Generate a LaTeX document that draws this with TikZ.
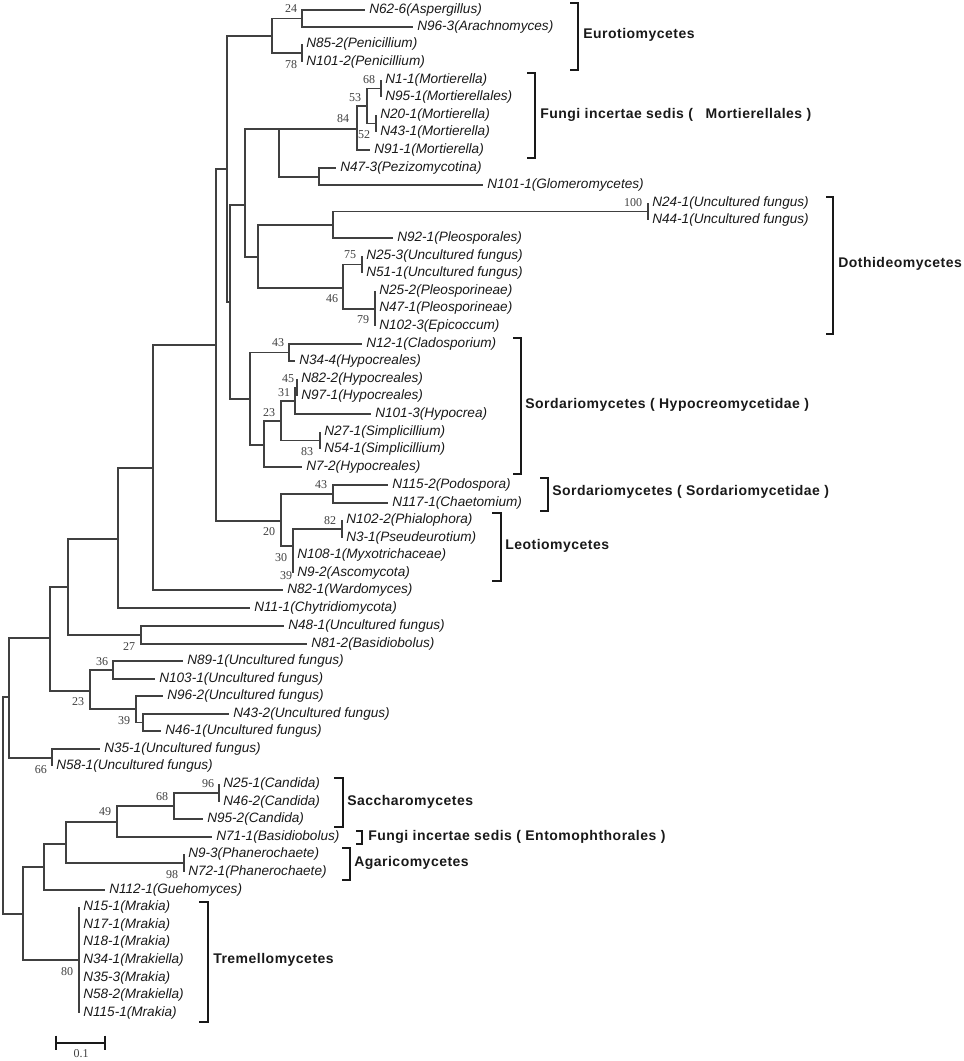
\documentclass[tikz,border=0pt]{standalone}
\usepackage{fontspec}
\setmainfont{Liberation Serif}
\newfontfamily\leaffont{Liberation Sans}
\newfontfamily\cladefont{Liberation Sans}[LetterSpace=3.5]

\begin{document}
\begin{tikzpicture}[
    x=0.75pt, y=-0.75pt,
    branch/.style={black!75, line width=0.9pt},
    leaf/.style={anchor=west, inner xsep=3pt, inner ysep=0pt, text=black!90,
      font=\leaffont\itshape\fontsize{10.2}{12}\selectfont},
    boot/.style={inner sep=0pt, text=black!75, font=\fontsize{9}{10}\selectfont},
    clade/.style={anchor=west, inner sep=0pt, text=black!90,
      font=\cladefont\bfseries\fontsize{10.5}{12}\selectfont},
    bracket/.style={black!90, line width=1.7pt},
    scalebar/.style={black!90, line width=1.5pt}
  ]
    \useasboundingbox (0,0) rectangle (964,1061);

    % Internal nodes of the tree (x = branch length, y = row)
    \coordinate (root)     at (3,805);
    \coordinate (lowA)     at (9,697);
    \coordinate (lowB)     at (23,914);
    \coordinate (uncgrp)   at (50,638);
    \coordinate (upper)    at (68,587);
    \coordinate (asco)     at (118,539);
    \coordinate (pezizo)   at (153,468);
    \coordinate (crown)    at (216,345);
    \coordinate (eurmor)   at (227,169);
    \coordinate (euro)     at (272,36);
    \coordinate (aspara)   at (302,18.5);
    \coordinate (penic)    at (302,53);
    \coordinate (dothsord) at (230,302);
    \coordinate (mortdoth) at (245,205);
    \coordinate (mortglo)  at (279,129);
    \coordinate (mort)     at (357,129);
    \coordinate (morta)    at (367,106);
    \coordinate (mortb)    at (381,88.5);
    \coordinate (mortc)    at (376,123.5);
    \coordinate (pezglo)   at (319,177);
    \coordinate (doth)     at (258,257);
    \coordinate (dotha)    at (333,225);
    \coordinate (dothunc)  at (648,211.5);
    \coordinate (dothb)    at (343,288);
    \coordinate (dothc)    at (362,264.5);
    \coordinate (pleos)    at (375,309);
    \coordinate (hypo)     at (250,399);
    \coordinate (hypoa)    at (289,352.5);
    \coordinate (hypob)    at (264,445);
    \coordinate (hypoc)    at (281,421);
    \coordinate (hypod)    at (295,401);
    \coordinate (hypoe)    at (297,387.5);
    \coordinate (simpl)    at (320,440.5);
    \coordinate (sordleo)  at (281,521);
    \coordinate (sord)     at (333,494);
    \coordinate (leo)      at (293,546);
    \coordinate (leoa)     at (293,564);
    \coordinate (leob)     at (342,529);
    \coordinate (basgrp)   at (141,635);
    \coordinate (uncw)     at (90,691);
    \coordinate (uncx)     at (113,670);
    \coordinate (uncy)     at (136,709);
    \coordinate (uncz)     at (143,722.5);
    \coordinate (uncab)    at (52,758);
    \coordinate (basid)    at (44,867);
    \coordinate (sacch)    at (66,844);
    \coordinate (saccb)    at (117,822);
    \coordinate (candida)  at (174,806);
    \coordinate (candb)    at (219,793);
    \coordinate (agar)     at (184,863);
    \coordinate (trem)     at (79,960);

    % Leaves (node sits at the tip of its branch)
    \node[leaf] (asp)  at (365,10)  {N62-6(Aspergillus)};
    \node[leaf] (ara)  at (413,27)  {N96-3(Arachnomyces)};
    \node[leaf] (pena) at (302,44)  {N85-2(Penicillium)};
    \node[leaf] (penb) at (302,62)  {N101-2(Penicillium)};
    \node[leaf] (mora) at (381,80)  {N1-1(Mortierella)};
    \node[leaf] (morb) at (381,97)  {N95-1(Mortierellales)};
    \node[leaf] (morc) at (376,115) {N20-1(Mortierella)};
    \node[leaf] (mord) at (376,132) {N43-1(Mortierella)};
    \node[leaf] (more) at (370,150) {N91-1(Mortierella)};
    \node[leaf] (pez)  at (336,168) {N47-3(Pezizomycotina)};
    \node[leaf] (glo)  at (483,185) {N101-1(Glomeromycetes)};
    \node[leaf] (unca) at (648,203) {N24-1(Uncultured fungus)};
    \node[leaf] (uncb) at (648,220) {N44-1(Uncultured fungus)};
    \node[leaf] (ple)  at (393,238) {N92-1(Pleosporales)};
    \node[leaf] (uncc) at (362,256) {N25-3(Uncultured fungus)};
    \node[leaf] (uncd) at (362,273) {N51-1(Uncultured fungus)};
    \node[leaf] (plea) at (375,291) {N25-2(Pleosporineae)};
    \node[leaf] (pleb) at (375,308) {N47-1(Pleosporineae)};
    \node[leaf] (epi)  at (375,326) {N102-3(Epicoccum)};
    \node[leaf] (cla)  at (362,344) {N12-1(Cladosporium)};
    \node[leaf] (hypa) at (295,361) {N34-4(Hypocreales)};
    \node[leaf] (hypb) at (297,379) {N82-2(Hypocreales)};
    \node[leaf] (hypc) at (297,396) {N97-1(Hypocreales)};
    \node[leaf] (hypd) at (371,414) {N101-3(Hypocrea)};
    \node[leaf] (sima) at (320,432) {N27-1(Simplicillium)};
    \node[leaf] (simb) at (320,449) {N54-1(Simplicillium)};
    \node[leaf] (hype) at (302,467) {N7-2(Hypocreales)};
    \node[leaf] (pod)  at (388,485) {N115-2(Podospora)};
    \node[leaf] (cha)  at (388,503) {N117-1(Chaetomium)};
    \node[leaf] (phi)  at (342,520) {N102-2(Phialophora)};
    \node[leaf] (pse)  at (342,538) {N3-1(Pseudeurotium)};
    \node[leaf] (myx)  at (293,555) {N108-1(Myxotrichaceae)};
    \node[leaf] (asc)  at (293,573) {N9-2(Ascomycota)};
    \node[leaf] (war)  at (283,590) {N82-1(Wardomyces)};
    \node[leaf] (chy)  at (250,608) {N11-1(Chytridiomycota)};
    \node[leaf] (unce) at (284,626) {N48-1(Uncultured fungus)};
    \node[leaf] (basa) at (307,644) {N81-2(Basidiobolus)};
    \node[leaf] (uncf) at (183,661) {N89-1(Uncultured fungus)};
    \node[leaf] (uncg) at (155,679) {N103-1(Uncultured fungus)};
    \node[leaf] (unch) at (163,696) {N96-2(Uncultured fungus)};
    \node[leaf] (unci) at (229,714) {N43-2(Uncultured fungus)};
    \node[leaf] (uncj) at (161,731) {N46-1(Uncultured fungus)};
    \node[leaf] (unck) at (100,749) {N35-1(Uncultured fungus)};
    \node[leaf] (uncl) at (52,766)  {N58-1(Uncultured fungus)};
    \node[leaf] (cana) at (219,784) {N25-1(Candida)};
    \node[leaf] (canb) at (219,802) {N46-2(Candida)};
    \node[leaf] (canc) at (203,819) {N95-2(Candida)};
    \node[leaf] (basb) at (212,837) {N71-1(Basidiobolus)};
    \node[leaf] (phaa) at (184,854) {N9-3(Phanerochaete)};
    \node[leaf] (phab) at (184,872) {N72-1(Phanerochaete)};
    \node[leaf] (gue)  at (105,890) {N112-1(Guehomyces)};
    \foreach \t/\yy [count=\k] in {N15-1(Mrakia)/907, N17-1(Mrakia)/925,
        N18-1(Mrakia)/942, N34-1(Mrakiella)/960, N35-3(Mrakia)/978,
        N58-2(Mrakiella)/995, N115-1(Mrakia)/1013}
      \node[leaf] (mrk\k) at (79,\yy) {\t};

    % Branches: parent |- child
    \foreach \a/\b in {root/lowA, root/lowB, lowA/uncgrp, lowA/uncab,
        uncgrp/upper, uncgrp/uncw, upper/asco, upper/basgrp,
        asco/pezizo, asco/chy, pezizo/crown, pezizo/war,
        crown/eurmor, crown/sordleo, eurmor/euro, eurmor/dothsord}
      \draw[branch] (\a) |- (\b);

    % Eurotiomycetes and Mortierellales
    \foreach \a/\b in {euro/aspara, euro/penic, aspara/asp, aspara/ara,
        penic/pena, penic/penb, dothsord/mortdoth, dothsord/hypo,
        mortdoth/mortglo, mortdoth/doth, mortglo/mort, mortglo/pezglo,
        mort/morta, mort/more, morta/mortb, morta/mortc,
        mortb/mora, mortb/morb, mortc/morc, mortc/mord,
        pezglo/pez, pezglo/glo}
      \draw[branch] (\a) |- (\b);

    % Dothideomycetes
    \foreach \a/\b in {doth/dotha, doth/dothb, dotha/dothunc, dotha/ple,
        dothunc/unca, dothunc/uncb, dothb/dothc, dothb/pleos,
        dothc/uncc, dothc/uncd, pleos/plea, pleos/pleb, pleos/epi}
      \draw[branch] (\a) |- (\b);

    % Sordariomycetes and Leotiomycetes
    \foreach \a/\b in {hypo/hypoa, hypo/hypob, hypoa/cla, hypoa/hypa,
        hypob/hypoc, hypob/hype, hypoc/hypod, hypoc/simpl,
        hypod/hypoe, hypod/hypd, hypoe/hypb, hypoe/hypc,
        simpl/sima, simpl/simb, sordleo/sord, sordleo/leo,
        sord/pod, sord/cha, leo/leob, leo/leoa,
        leob/phi, leob/pse, leoa/myx, leoa/asc}
      \draw[branch] (\a) |- (\b);

    % Uncultured groups
    \foreach \a/\b in {basgrp/unce, basgrp/basa, uncw/uncx, uncw/uncy,
        uncx/uncf, uncx/uncg, uncy/unch, uncy/uncz,
        uncz/unci, uncz/uncj, uncab/unck, uncab/uncl}
      \draw[branch] (\a) |- (\b);

    % Saccharomycetes, Agaricomycetes, Tremellomycetes
    \foreach \a/\b in {lowB/basid, lowB/trem, basid/sacch, basid/gue,
        sacch/saccb, sacch/agar, saccb/candida, saccb/basb,
        candida/candb, candida/canc, candb/cana, candb/canb,
        agar/phaa, agar/phab}
      \draw[branch] (\a) |- (\b);
    \foreach \k in {1,...,7}
      \draw[branch] (trem) |- (mrk\k);

    % Bootstrap values
    \foreach \v/\x/\y [count=\k] in {24/291/9, 78/291/65, 68/369/80,
        53/355/98, 84/343/119, 52/364/135, 100/633/203, 75/350/255,
        46/332/299, 79/363/320, 43/278/343, 45/288/379, 31/284/393,
        23/269/413, 83/307/452, 43/321/485, 82/330/521, 20/269/532,
        30/281/558, 39/286/576, 27/129/647, 36/102/662, 23/78/702,
        39/124/721, 66/41/770, 96/208/784, 68/162/797, 49/105/812,
        98/172/875, 80/67/972}
      \node[boot] (bs\k) at (\x,\y) {\v};

    % Clade brackets and names
    \foreach \xa/\xb/\ya/\yb/\lx/\ly/\name [count=\k] in {
        570/578/3/70/583/35/{Eurotiomycetes},
        527/535/73/158/540/115/{Fungi incertae sedis (\hspace{0.9em}Mortierellales )},
        826/833/197/334/838/264/{Dothideomycetes},
        513/521/338/474/525/405/{Sordariomycetes ( Hypocreomycetidae )},
        540/548/478/511/552/492/{Sordariomycetes ( Sordariomycetidae )},
        492/501/513/581/505/546/{Leotiomycetes},
        334/343/778/827/347/802/{Saccharomycetes},
        356/362/831/844/368/837/{Fungi incertae sedis ( Entomophthorales )},
        342/350/848/880/354/863/{Agaricomycetes},
        199/208/902/1022/213/960/{Tremellomycetes}} {
      \draw[bracket] (\xa,\ya) -- (\xb,\ya) -- (\xb,\yb) -- (\xa,\yb);
      \node[clade] (cl\k) at (\lx,\ly) {\name};
    }

    % Scale bar
    \coordinate (sba) at (56,1043);
    \coordinate (sbb) at (105,1043);
    \draw[scalebar] (sba) -- (sbb);
    \draw[scalebar] ([yshift=5.5pt]sba) -- ([yshift=-5.5pt]sba);
    \draw[scalebar] ([yshift=5.5pt]sbb) -- ([yshift=-5.5pt]sbb);
    \node[boot] (sbl) at (81,1054) {0.1};

  \end{tikzpicture}
\end{document}
